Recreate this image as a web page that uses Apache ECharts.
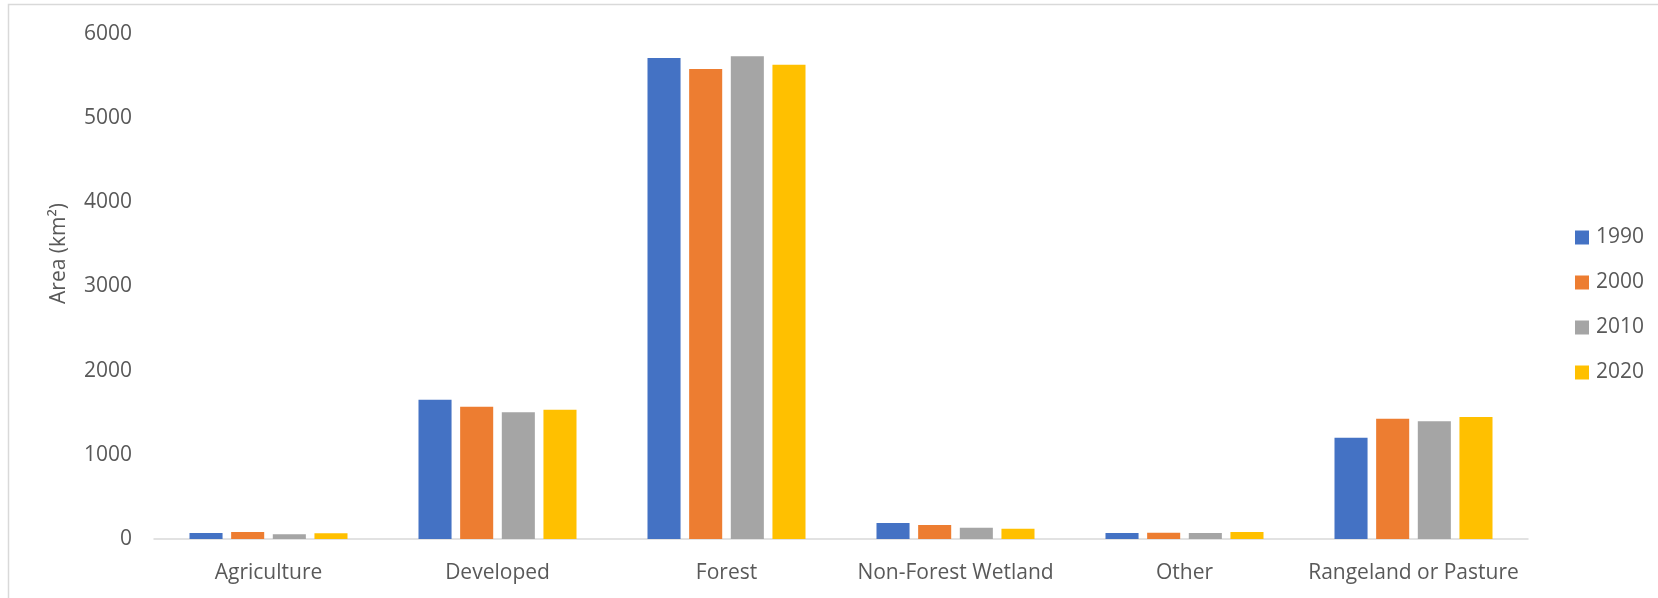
<!DOCTYPE html>
<html>
<head>
<meta charset="utf-8">
<script src="https://cdn.jsdelivr.net/npm/echarts@6/dist/echarts.min.js"></script>
<style>
  html, body { margin: 0; padding: 0; background: #fff; }
  #chart { width: 1658px; height: 598px; }
</style>
</head>
<body>
<div id="chart"></div>
<script>
// land cover classes and area (km2) per year
const categories = ['Agriculture', 'Developed', 'Forest', 'Non-Forest Wetland', 'Other', 'Rangeland or Pasture'];
const years = ['1990', '2000', '2010', '2020'];
const area1990 = [71, 1655, 5715, 190, 71, 1204];
const area2000 = [83, 1572, 5584, 166, 75, 1430];
const area2010 = [56, 1505, 5735, 134, 71, 1398];
const area2020 = [68, 1536, 5636, 122, 83, 1450];
const yTicks = { min: 0, max: 6000, interval: 1000 };

const colors = ['#4472C4', '#ED7D31', '#A5A5A5', '#FFC000'];
const seriesData = [area1990, area2000, area2010, area2020];

const textColor = '#595959';
const fontFamily = '"Open Sans", "Noto Sans", sans-serif';

const myChart = echarts.init(document.getElementById('chart'));

const options = {
  animation: false,
  color: colors,
  textStyle: { fontFamily: fontFamily, color: textColor },
  // light frame like the spreadsheet chart area
  graphic: [{
    type: 'rect',
    shape: { x: 8.5, y: 4.5, width: 1700, height: 700 },
    style: { fill: 'none', stroke: '#d9d9d9', lineWidth: 1.5 },
    silent: true,
    z: -1
  }],
  grid: { left: 154, right: 130, top: 34, bottom: 59 },
  legend: {
    orient: 'vertical',
    left: 1570,
    top: 222,
    itemWidth: 14,
    itemHeight: 14,
    itemGap: 24,
    icon: 'rect',
    data: years,
    textStyle: { fontSize: 21, color: textColor, fontFamily: fontFamily, padding: [0, 0, 0, 2] }
  },
  xAxis: {
    type: 'category',
    data: categories,
    axisLine: { lineStyle: { color: '#d9d9d9', width: 1.5 } },
    axisTick: { show: false },
    axisLabel: { fontSize: 21, color: textColor, margin: 24, interval: 0 }
  },
  yAxis: {
    type: 'value',
    min: yTicks.min,
    max: yTicks.max,
    interval: yTicks.interval,
    name: 'Area (km²)',
    nameLocation: 'middle',
    nameGap: 84,
    nameTextStyle: { fontSize: 21, color: textColor, padding: [0, 0, 0, 66] },
    axisLine: { show: false },
    axisTick: { show: false },
    splitLine: { show: false },
    axisLabel: { fontSize: 21, color: textColor, margin: 22, formatter: v => String(v) }
  },
  series: years.map((y, i) => ({
    name: y,
    type: 'bar',
    data: seriesData[i],
    barGap: '26%',
    barCategoryGap: '31%'
  }))
};

myChart.setOption(options);
</script>
</body>
</html>
